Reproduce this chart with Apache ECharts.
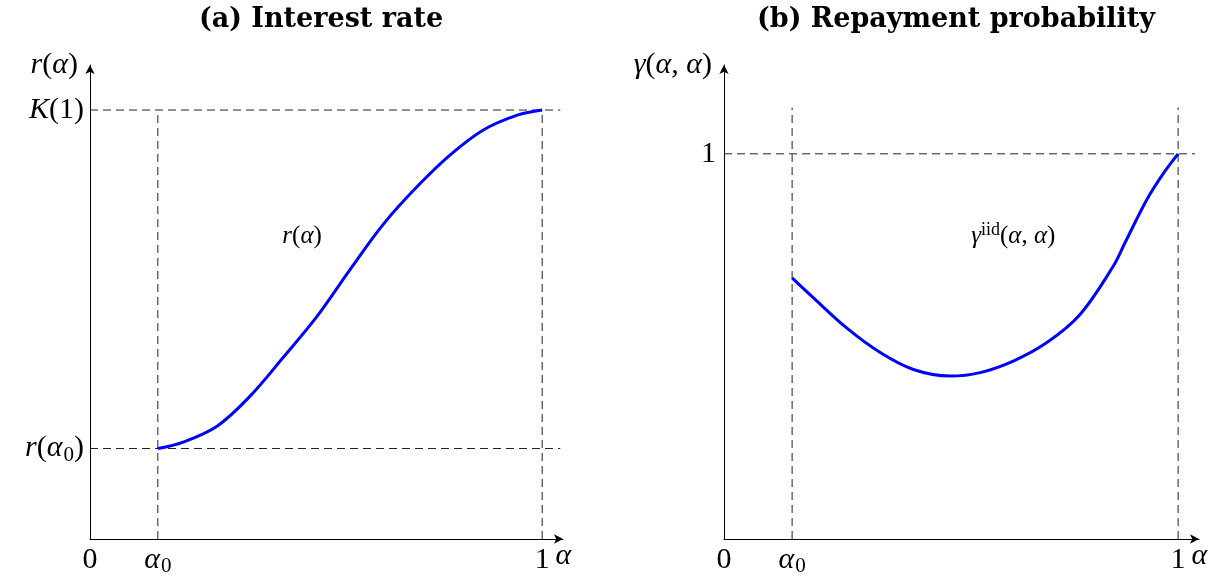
<!DOCTYPE html>
<html>
<head>
<meta charset="utf-8">
<script src="https://cdn.jsdelivr.net/npm/echarts@6/dist/echarts.min.js"></script>
<style>
  html, body { margin: 0; padding: 0; background: #fff; }
  #main { width: 1222px; height: 577px; }
</style>
</head>
<body>
<div id="main"></div>
<script>
// 数据
var alpha0 = 0.15;
var rAlpha0 = 0.211;
var rX = [0.15, 0.206, 0.281, 0.354, 0.427, 0.502, 0.575, 0.648, 0.723, 0.796, 0.869, 0.945, 1.0];
var rY = [0.211, 0.226, 0.263, 0.333, 0.423, 0.519, 0.628, 0.733, 0.821, 0.895, 0.953, 0.988, 1.0];
var gX = [0.15, 0.197, 0.270, 0.344, 0.417, 0.498, 0.564, 0.637, 0.711, 0.784, 0.857, 0.883, 0.931, 0.968, 1.0];
var gY = [0.678, 0.626, 0.548, 0.484, 0.440, 0.423, 0.432, 0.462, 0.510, 0.583, 0.708, 0.769, 0.881, 0.950, 1.0];
var xTicks = [0, alpha0, 1];
var rTicks = [rAlpha0, 1];
var gTicks = [1];

var serif = 'Liberation Serif';
var rich = {
    i: { fontFamily: serif, fontStyle: 'italic', fontSize: 30, color: '#000', lineHeight: 34 },
    n: { fontFamily: serif, fontSize: 30, color: '#000', lineHeight: 34 },
    s: { fontFamily: serif, fontSize: 21, color: '#000', lineHeight: 34, verticalAlign: 'bottom', padding: [0, 0, 0, 1] },
    si: { fontFamily: serif, fontStyle: 'italic', fontSize: 25, color: '#000', lineHeight: 30 },
    sn: { fontFamily: serif, fontSize: 25, color: '#000', lineHeight: 30 },
    sup: { fontFamily: serif, fontSize: 18, color: '#000', lineHeight: 30, verticalAlign: 'top' }
};

function zip(xs, ys) {
    return xs.map(function (x, k) { return [x, ys[k]]; });
}

function xLabel(v) {
    if (Math.abs(v) < 1e-9) return '{n|0}';
    if (Math.abs(v - alpha0) < 1e-9) return '{i|α}{s|0}';
    return '{n|1}';
}

function dashed(name, xi, yi, pts) {
    return {
        name: name, type: 'line', xAxisIndex: xi, yAxisIndex: yi,
        data: pts, symbol: 'none', silent: true, z: 1,
        lineStyle: { color: '#222', width: 1, type: [8, 5] }
    };
}

function makeX(idx) {
    return {
        type: 'value', gridIndex: idx, min: 0, max: 1.046,
        splitLine: { show: false },
        axisTick: { show: false },
        axisLine: { lineStyle: { color: '#000', width: 1 }, symbol: ['none', 'arrow'], symbolSize: [7, 9] },
        axisLabel: { customValues: xTicks, formatter: xLabel, margin: 4, rich: rich },
        name: '{i|α}', nameLocation: 'end', nameGap: -12,
        nameTextStyle: { rich: rich, verticalAlign: 'top', align: 'left' }
    };
}

var myChart = echarts.init(document.getElementById('main'));

var option = {
    animation: false,
    title: [
        { text: '(a) Interest rate', left: 316, top: 1, textAlign: 'center',
          textStyle: { fontFamily: 'DejaVu Serif', fontWeight: 'bold', fontSize: 27, color: '#000' } },
        { text: '(b) Repayment probability', left: 951, top: 1, textAlign: 'center',
          textStyle: { fontFamily: 'DejaVu Serif', fontWeight: 'bold', fontSize: 27, color: '#000' } }
    ],
    grid: [
        { left: 90, top: 65, width: 473, height: 475 },
        { left: 724, top: 65, width: 475, height: 475 }
    ],
    xAxis: [makeX(0), makeX(1)],
    yAxis: [
        {
            type: 'value', gridIndex: 0, min: 0, max: 1.105,
            splitLine: { show: false }, axisTick: { show: false },
            axisLine: { lineStyle: { color: '#000', width: 1 }, symbol: ['none', 'arrow'], symbolSize: [7, 9] },
            axisLabel: {
                customValues: rTicks, margin: 6, rich: rich,
                formatter: function (v) {
                    return v === 1 ? '{i|K}{n|(1)}' : '{i|r}{n|(}{i|α}{s|0}{n|)}';
                }
            },
            name: '{i|r}{n|(}{i|α}{n|)}', nameLocation: 'end', nameGap: 0,
            nameTextStyle: { rich: rich, align: 'right', verticalAlign: 'middle', padding: [0, 12, 0, 0] }
        },
        {
            type: 'value', gridIndex: 1, min: 0, max: 1.2306,
            splitLine: { show: false }, axisTick: { show: false },
            axisLine: { lineStyle: { color: '#000', width: 1 }, symbol: ['none', 'arrow'], symbolSize: [7, 9] },
            axisLabel: { customValues: gTicks, margin: 8, rich: rich, formatter: function () { return '{n|1}'; } },
            name: '{i|γ}{n|(}{i|α}{n|, }{i|α}{n|)}', nameLocation: 'end', nameGap: 0,
            nameTextStyle: { rich: rich, align: 'right', verticalAlign: 'middle', padding: [0, 12, 0, 0] }
        }
    ],
    series: [
        dashed('a-top', 0, 0, [[0, 1], [1.04, 1]]),
        dashed('a-low', 0, 0, [[0, rAlpha0], [1.04, rAlpha0]]),
        dashed('a-v0', 0, 0, [[alpha0, 0], [alpha0, 1]]),
        dashed('a-v1', 0, 0, [[1, 0], [1, 1]]),
        dashed('b-top', 1, 1, [[0, 1], [1.037, 1]]),
        dashed('b-v0', 1, 1, [[alpha0, 0], [alpha0, 1.12]]),
        dashed('b-v1', 1, 1, [[1, 0], [1, 1.12]]),
        {
            name: 'r', type: 'line', xAxisIndex: 0, yAxisIndex: 0, data: zip(rX, rY),
            symbol: 'none', smooth: 0.35, z: 3,
            lineStyle: { color: '#0000ff', width: 3 }
        },
        {
            name: 'gamma', type: 'line', xAxisIndex: 1, yAxisIndex: 1, data: zip(gX, gY),
            symbol: 'none', smooth: 0.35, z: 3,
            lineStyle: { color: '#0000ff', width: 3 }
        },
        {
            name: 'label-a', type: 'scatter', xAxisIndex: 0, yAxisIndex: 0, data: [[0.469, 0.705]],
            symbolSize: 0, silent: true, itemStyle: { opacity: 1 },
            label: { show: true, position: 'inside', color: '#000', rich: rich,
                     formatter: '{si|r}{sn|(}{si|α}{sn|)}' }
        },
        {
            name: 'label-b', type: 'scatter', xAxisIndex: 1, yAxisIndex: 1, data: [[0.637, 0.785]],
            symbolSize: 0, silent: true, itemStyle: { opacity: 1 },
            label: { show: true, position: 'inside', color: '#000', rich: rich,
                     formatter: '{si|γ}{sup|iid}{sn|(}{si|α}{sn|, }{si|α}{sn|)}' }
        }
    ]
};
myChart.setOption(option);
</script>
</body>
</html>
